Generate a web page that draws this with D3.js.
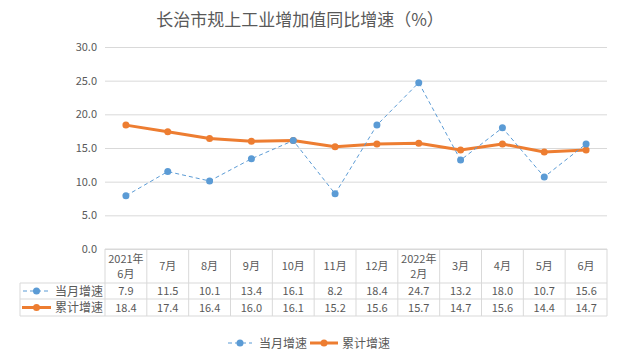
<!DOCTYPE html>
<html>
<head>
<meta charset="utf-8">
<script src="https://cdn.jsdelivr.net/npm/d3@7"></script>
<style>
  body { margin: 0; background: #fff; }
  svg { display: block; }
</style>
</head>
<body>
<div id="container"></div>
<script>
const title = '长治市规上工业增加值同比增速（%）';
const categories = [['2021年', '6月'], ['7月'], ['8月'], ['9月'], ['10月'], ['11月'], ['12月'], ['2022年', '2月'], ['3月'], ['4月'], ['5月'], ['6月']];
const seriesNames = ['当月增速', '累计增速'];
const monthly = [7.9, 11.5, 10.1, 13.4, 16.1, 8.2, 18.4, 24.7, 13.2, 18.0, 10.7, 15.6];
const cumulative = [18.4, 17.4, 16.4, 16.0, 16.1, 15.2, 15.6, 15.7, 14.7, 15.6, 14.4, 14.7];
const yTicks = [0, 5, 10, 15, 20, 25, 30];

const W = 618, H = 363;
const font = '"Noto Sans CJK SC", "Microsoft YaHei", sans-serif';
const textColor = '#595959';
const gridColor = '#d9d9d9';
const blue = '#5b9bd5', orange = '#ed7d31';

let svg = d3.select('#container')
    .append('svg')
    .attr('width', W)
    .attr('height', H)
    .attr('font-family', font);

const plot = { left: 105, right: 607, top: 47, bottom: 249 };

let x = d3.scaleBand()
    .domain(d3.range(categories.length))
    .range([plot.left, plot.right]);

let y = d3.scaleLinear()
    .domain([0, 30])
    .range([plot.bottom, plot.top]);

// title
svg.append('text')
    .attr('x', 300)
    .attr('y', 26)
    .attr('text-anchor', 'middle')
    .attr('font-size', 17)
    .attr('fill', textColor)
    .text(title);

// gridlines + y labels
let yAxis = d3.axisLeft(y)
    .tickValues(yTicks)
    .tickSize(-(plot.right - plot.left))
    .tickFormat(d3.format('.1f'));

let gy = svg.append('g')
    .attr('transform', `translate(${plot.left},0)`)
    .call(yAxis);
gy.select('.domain').remove();
gy.selectAll('.tick line').attr('stroke', gridColor);
gy.selectAll('.tick text')
    .attr('x', -8)
    .attr('fill', textColor)
    .attr('font-size', 11)
    .attr('font-family', font);

// data table
const rowTop = [249, 283, 299, 316];
const tableLeft = 20;
let table = svg.append('g').attr('stroke', gridColor).attr('fill', 'none');

// horizontal lines
table.append('line').attr('x1', plot.left).attr('x2', plot.right).attr('y1', rowTop[0]).attr('y2', rowTop[0]);
[1, 2, 3].forEach(i => {
    table.append('line').attr('x1', tableLeft).attr('x2', plot.right).attr('y1', rowTop[i]).attr('y2', rowTop[i]);
});
// vertical lines
d3.range(categories.length + 1).forEach(i => {
    let xx = i < categories.length ? x(i) : plot.right;
    table.append('line').attr('x1', xx).attr('x2', xx).attr('y1', rowTop[0]).attr('y2', rowTop[3]);
});
table.append('line').attr('x1', tableLeft).attr('x2', tableLeft).attr('y1', rowTop[1]).attr('y2', rowTop[3]);

// category labels
categories.forEach((c, i) => {
    let cx = x(i) + x.bandwidth() / 2;
    let t = svg.append('text')
        .attr('text-anchor', 'middle')
        .attr('fill', textColor)
        .attr('font-size', 11);
    if (c.length === 1) {
        t.attr('x', cx).attr('y', 270).text(c[0]);
    } else {
        t.append('tspan').attr('x', cx).attr('y', 263).text(c[0]);
        t.append('tspan').attr('x', cx).attr('y', 278).text(c[1]);
    }
});

// table values
[monthly, cumulative].forEach((vals, r) => {
    let ty = (rowTop[r + 1] + rowTop[r + 2]) / 2 + 4;
    svg.selectAll('.val' + r).data(vals)
        .enter()
        .append('text')
        .attr('x', (d, i) => x(i) + x.bandwidth() / 2)
        .attr('y', ty)
        .attr('text-anchor', 'middle')
        .attr('fill', textColor)
        .attr('font-size', 11)
        .text(d => d.toFixed(1));
});

// series row headers with legend keys
function drawKey(g, color, dashed, width, x0, x1, yy) {
    g.append('line')
        .attr('x1', x0).attr('x2', x1).attr('y1', yy).attr('y2', yy)
        .attr('stroke', color)
        .attr('stroke-width', width)
        .attr('stroke-dasharray', dashed ? '4,3' : null);
    g.append('circle')
        .attr('cx', (x0 + x1) / 2).attr('cy', yy).attr('r', 3.5)
        .attr('fill', color);
}

let rowHeads = svg.append('g');
drawKey(rowHeads, blue, true, 1, 23, 50, 291);
drawKey(rowHeads, orange, false, 3, 22, 51, 307.5);
rowHeads.append('text').attr('x', 55).attr('y', 296).attr('font-size', 12).attr('fill', textColor).text(seriesNames[0]);
rowHeads.append('text').attr('x', 55).attr('y', 312).attr('font-size', 12).attr('fill', textColor).text(seriesNames[1]);

// lines
let line = d3.line()
    .x((d, i) => x(i) + x.bandwidth() / 2)
    .y(d => y(d));

svg.append('path')
    .datum(cumulative)
    .attr('d', line)
    .attr('fill', 'none')
    .attr('stroke', orange)
    .attr('stroke-width', 3)
    .attr('stroke-linejoin', 'round');

svg.selectAll('.dotC').data(cumulative)
    .enter()
    .append('circle')
    .attr('cx', (d, i) => x(i) + x.bandwidth() / 2)
    .attr('cy', d => y(d))
    .attr('r', 3.5)
    .attr('fill', orange);

svg.append('path')
    .datum(monthly)
    .attr('d', line)
    .attr('fill', 'none')
    .attr('stroke', blue)
    .attr('stroke-width', 1)
    .attr('stroke-dasharray', '4,3');

svg.selectAll('.dotM').data(monthly)
    .enter()
    .append('circle')
    .attr('cx', (d, i) => x(i) + x.bandwidth() / 2)
    .attr('cy', d => y(d))
    .attr('r', 3.5)
    .attr('fill', blue);

// bottom legend
let legend = svg.append('g');
drawKey(legend, blue, true, 1, 228, 252, 343);
legend.append('text').attr('x', 259).attr('y', 348).attr('font-size', 12).attr('fill', textColor).text(seriesNames[0]);
drawKey(legend, orange, false, 3, 310, 338, 343);
legend.append('text').attr('x', 342).attr('y', 348).attr('font-size', 12).attr('fill', textColor).text(seriesNames[1]);
</script>
</body>
</html>
